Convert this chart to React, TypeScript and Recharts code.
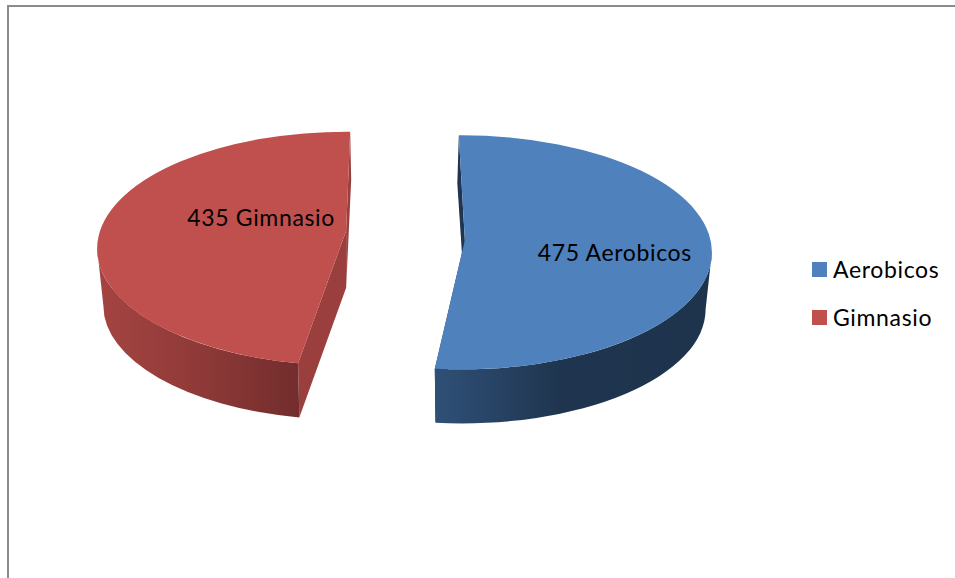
import React from "react";
import { PieChart, Pie, Legend } from "recharts";

const categories = ["Aerobicos", "Gimnasio"];
const values = [475, 435];
const topColors = ["#4f81bd", "#c0504d"];
const faceColors = ["#1f3550", "#9a3f3d"];
const gradientIds = ["wallBlue", "wallRed"];

const WIDTH = 955;
const HEIGHT = 578;
const FONT = "Lato, 'Open Sans', sans-serif";
const FONT_SIZE = 23;
const LETTER_SPACING = 0.65;
const SQUASH = 0.468;
const EXPLODE = 57.5;
const DEPTH = 57;
const BACK_DEPTH = 48;
const BOTTOM_SCALE = 0.975;
// small perspective nudges of the 3D projection, per slice
const startNudge = [0.7, -3.4];
const endNudge = [1.7, -0.7];
const apexShift = [[3, -12], [-1, -18]];
const labelShift = [[153, 9], [-86, -23]];
const legendTop = [262, 310];

const tableData = categories.map((name, i) => ({ name, value: values[i], fill: topColors[i] }));

const rad = (a: number) => (a * Math.PI) / 180;

function centreOf(cx: number, cy: number, mid: number) {
  return {
    x: cx + EXPLODE * Math.cos(rad(mid)),
    y: cy - EXPLODE * SQUASH * Math.sin(rad(mid)),
  };
}

function Slice3D(props: any) {
  const { cx, cy, outerRadius, startAngle, endAngle, payload } = props;
  const i = categories.indexOf(payload?.name ?? props.name);
  const mid = (startAngle + endAngle) / 2;
  const c = centreOf(cx, cy, mid);
  const rx = outerRadius;
  const ry = outerRadius * SQUASH;
  const a0 = startAngle + startNudge[i];
  const a1 = endAngle + endNudge[i];
  const top = (a: number) => [c.x + rx * Math.cos(rad(a)), c.y - ry * Math.sin(rad(a))];
  const bot = (a: number) => [
    c.x + rx * BOTTOM_SCALE * Math.cos(rad(a)),
    c.y + DEPTH - ry * BOTTOM_SCALE * Math.sin(rad(a)),
  ];
  const apex = [c.x + apexShift[i][0], c.y + apexShift[i][1]];
  const apexBot = [apex[0], apex[1] + DEPTH];
  const pt = (p: number[]) => `${p[0].toFixed(2)} ${p[1].toFixed(2)}`;

  const s = top(a0);
  const e = top(a1);
  const large = a0 - a1 > 180 ? 1 : 0;
  const topPath = `M${pt(apex)} L${pt(s)} A${rx} ${ry} 0 ${large} 1 ${pt(e)} Z`;

  // the part of the rim that faces the viewer: angles between 0 and -180
  const wf = Math.min(a0, 0);
  const wt = Math.max(a1, -180);
  const wallPath =
    `M${pt(top(wf))} A${rx} ${ry} 0 0 1 ${pt(top(wt))} ` +
    `L${pt(bot(wt))} A${rx * BOTTOM_SCALE} ${ry * BOTTOM_SCALE} 0 0 0 ${pt(bot(wf))} Z`;

  // the cut faces: the one at the back of the pie is foreshortened
  const isBack = (p: number[]) => p[1] < c.y;
  const face = (p: number[], a: number) => {
    const low = isBack(p) ? [p[0] + (i === 0 ? -1.5 : 1), p[1] + BACK_DEPTH] : bot(a);
    return `M${pt(apex)} L${pt(p)} L${pt(low)} L${pt(apexBot)} Z`;
  };

  return (
    <g>
      <path d={face(s, a0)} fill={faceColors[i]} />
      <path d={face(e, a1)} fill={faceColors[i]} />
      <path d={wallPath} fill={`url(#${gradientIds[i]})`} />
      <path d={topPath} fill={topColors[i]} />
    </g>
  );
}

function SliceLabel(props: any) {
  const { cx, cy, name, value, midAngle } = props;
  const i = categories.indexOf(name);
  const c = centreOf(cx, cy, midAngle);
  return (
    <text
      x={c.x + labelShift[i][0]}
      y={c.y + labelShift[i][1]}
      textAnchor="middle"
      fontFamily={FONT}
      fontSize={FONT_SIZE}
      letterSpacing={LETTER_SPACING}
      fill="#000"
    >
      {`${value} ${name}`}
    </text>
  );
}

function LegendBox({ payload }: any) {
  return (
    <div style={{ position: "relative", width: 143, height: 90 }}>
      {(payload ?? []).map((item: any, i: number) => (
        <div key={item.value}>
          <div
            style={{
              position: "absolute",
              left: 0,
              top: legendTop[i] - 262,
              width: 15,
              height: 15,
              background: item.color,
            }}
          />
          <div
            style={{
              position: "absolute",
              left: 21,
              top: legendTop[i] - 268,
              fontFamily: FONT,
              fontSize: FONT_SIZE,
              letterSpacing: LETTER_SPACING,
              lineHeight: "26px",
              color: "#000",
              whiteSpace: "nowrap",
            }}
          >
            {item.value}
          </div>
        </div>
      ))}
    </div>
  );
}

export default function App() {
  return (
    <div style={{ position: "absolute", left: 0, top: 0, width: WIDTH, height: HEIGHT, overflow: "hidden", background: "#fff" }}>
      <div
        style={{
          position: "absolute",
          left: 7,
          top: 5,
          right: 0,
          bottom: 0,
          borderTop: "2px solid #8c8c8c",
          borderLeft: "2px solid #8c8c8c",
        }}
      />
      <PieChart
        width={WIDTH}
        height={HEIGHT}
        margin={{ top: 0, right: 0, bottom: 0, left: 0 }}
        style={{ position: "absolute", left: 0, top: 0 }}
      >
        <defs>
          <linearGradient id="wallBlue" x1="0" y1="0" x2="1" y2="0">
            <stop offset="0" stopColor="#2f5077" />
            <stop offset="0.45" stopColor="#1f354f" />
            <stop offset="1" stopColor="#1e334c" />
          </linearGradient>
          <linearGradient id="wallRed" x1="0" y1="0" x2="1" y2="0">
            <stop offset="0" stopColor="#a54442" />
            <stop offset="0.5" stopColor="#8f3a38" />
            <stop offset="1" stopColor="#722d2c" />
          </linearGradient>
        </defs>
        <Pie
          data={tableData}
          dataKey="value"
          nameKey="name"
          cx={404.5}
          cy={250.5}
          innerRadius={0}
          outerRadius={250}
          startAngle={90}
          endAngle={-270}
          paddingAngle={0}
          stroke="none"
          isAnimationActive={false}
          shape={Slice3D}
          label={SliceLabel}
          labelLine={false}
          rootTabIndex={-1}
        />
        <Legend
          layout="vertical"
          align="right"
          verticalAlign="top"
          wrapperStyle={{ left: 812, right: "auto", top: 262, width: 143 }}
          content={LegendBox}
        />
      </PieChart>
    </div>
  );
}
